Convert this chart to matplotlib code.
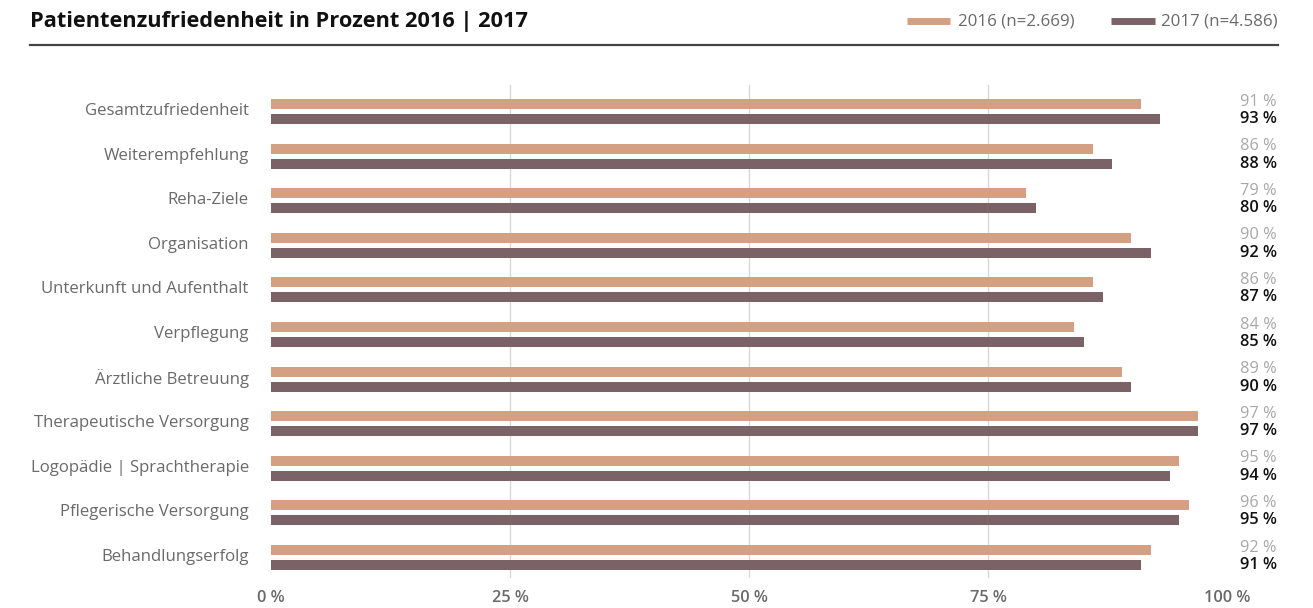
import matplotlib.pyplot as plt
from matplotlib.lines import Line2D
from matplotlib.transforms import blended_transform_factory, ScaledTranslation

plt.rcParams['font.family'] = ['Open Sans', 'DejaVu Sans']

# Zufriedenheitswerte in Prozent
kategorien = [
    "Gesamtzufriedenheit",
    "Weiterempfehlung",
    "Reha-Ziele",
    "Organisation",
    "Unterkunft und Aufenthalt",
    "Verpflegung",
    "Ärztliche Betreuung",
    "Therapeutische Versorgung",
    "Logopädie | Sprachtherapie",
    "Pflegerische Versorgung",
    "Behandlungserfolg",
]
werte_2016 = [91, 86, 79, 90, 86, 84, 89, 97, 95, 96, 92]
werte_2017 = [93, 88, 80, 92, 87, 85, 90, 97, 94, 95, 91]
xticks = [0, 25, 50, 75, 100]
xtick_labels = ["0 %", "25 %", "50 %", "75 %", "100 %"]

farbe_2016 = "#d4a083"
farbe_2017 = "#7a6267"
grau = "#6a6a6a"

fig = plt.figure(figsize=(13.13, 6.08), dpi=100)
ax = fig.add_axes([271 / 1313, 1 - 578 / 608, 956 / 1313, 493 / 608])

pos = list(range(len(kategorien)))
ax.barh([p - 0.168 for p in pos], werte_2016, height=0.225, color=farbe_2016, zorder=3)
ax.barh([p + 0.168 for p in pos], werte_2017, height=0.225, color=farbe_2017, zorder=3)

ax.set_xlim(0, 100)
ax.set_ylim(10.46, -0.594)

# Gitterlinien bei 25/50/75
for x in xticks[1:-1]:
    ax.axvline(x, color="#d8d8d8", linewidth=1.0, zorder=1)

ax.set_xticks(xticks)
ax.set_xticklabels(xtick_labels, color=grau, fontsize=11.8, fontweight="semibold")
ax.set_yticks(pos)
ax.set_yticklabels(kategorien, color=grau, fontsize=12.1)
ax.tick_params(axis="x", length=0, pad=9)
ax.tick_params(axis="y", length=0, pad=16)
# Kategorienamen etwas nach oben schieben
hoch = ScaledTranslation(0, 2.5 / 100, fig.dpi_scale_trans)
for lbl in ax.get_yticklabels():
    lbl.set_transform(lbl.get_transform() + hoch)
for s in ax.spines.values():
    s.set_visible(False)

# Wertebeschriftung rechts
tr = blended_transform_factory(fig.transFigure, ax.transData)
for p, a, b in zip(pos, werte_2016, werte_2017):
    ax.text(1277 / 1313, p - 0.22, f"{a} %", transform=tr, ha="right", va="center",
            fontsize=11.8, color="#a8a8a8")
    ax.text(1277 / 1313, p + 0.17, f"{b} %", transform=tr, ha="right", va="center",
            fontsize=11.8, color="#111111", fontweight="semibold")

# Kopfzeile mit Titel, Legende und Trennlinie
fig.text(30 / 1313, 1 - 21 / 608, "Patientenzufriedenheit in Prozent 2016 | 2017",
         fontsize=15.7, fontweight="bold", color="#111111", va="center", ha="left")
fig.add_artist(Line2D([30 / 1313, 1278 / 1313], [1 - 45 / 608] * 2,
                      color="#444444", linewidth=1.6, transform=fig.transFigure))

fig.add_artist(Line2D([907 / 1313, 950 / 1313], [1 - 21 / 608] * 2, color=farbe_2016,
                      linewidth=5, solid_capstyle="butt", transform=fig.transFigure))
fig.text(958 / 1313, 1 - 21 / 608, "2016 (n=2.669)", fontsize=12.2, color=grau,
         va="center", ha="left")
fig.add_artist(Line2D([1111 / 1313, 1155 / 1313], [1 - 21 / 608] * 2, color=farbe_2017,
                      linewidth=5, solid_capstyle="butt", transform=fig.transFigure))
fig.text(1161 / 1313, 1 - 21 / 608, "2017 (n=4.586)", fontsize=12.2, color=grau,
         va="center", ha="left")

fig.savefig("out.png", dpi=100)
